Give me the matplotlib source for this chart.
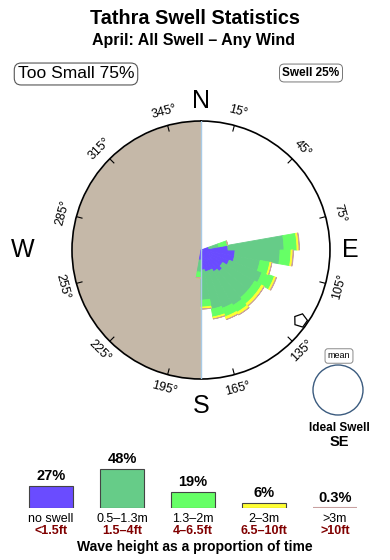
import matplotlib
matplotlib.use("Agg")
import matplotlib.pyplot as plt
from matplotlib.patches import Ellipse
import numpy as np

plt.rcParams['font.family'] = ['Liberation Sans', 'DejaVu Sans']

# swell rose: 10 degree sectors, share of time per height band (arbitrary % units)
directions = [75, 85, 95, 105, 115, 125, 135, 145, 155, 165, 175, 185]
no_swell = [0.8, 2.7, 3.4, 3.4, 3.0, 2.5, 2.8, 2.5, 2.2, 2.2, 2.0, 1.0]
h_05_13 = [1.0, 5.6, 4.5, 2.6, 3.5, 3.7, 3.4, 3.9, 4.0, 3.8, 3.0, 1.2]
h_13_2 = [0.9, 1.3, 1.1, 1.0, 1.3, 0.8, 0.8, 0.8, 0.9, 0.8, 0.7, 0.6]
h_2_3 = [0.0, 0.2, 0.2, 0.2, 0.2, 0.3, 0.3, 0.3, 0.3, 0.2, 0.2, 0.0]
h_3up = [0.0, 0.05, 0.05, 0.0, 0.05, 0.0, 0.0, 0.0, 0.0, 0.0, 0.0, 0.0]

# legend at the bottom
band_pct = [27, 48, 19, 6, 0.3]
band_pct_labels = ["27%", "48%", "19%", "6%", "0.3%"]
band_m = ["no swell", "0.5\u20131.3m", "1.3\u20132m", "2\u20133m", ">3m"]
band_ft = ["<1.5ft", "1.5\u20134ft", "4\u20136.5ft", "6.5\u201310ft", ">10ft"]
colors = ["#6a4cff", "#66cc88", "#66ff66", "#ffff33", "#c8a0a0"]
tick_dirs = list(range(15, 360, 30))

RMAX = 12.9
TAN = "#c5b8a8"
W, H = 390, 560


def fx(px):
    return px / W


def fy(py):
    return 1 - py / H


fig = plt.figure(figsize=(3.9, 5.6), dpi=100)

fig.text(fx(195), fy(18), "Tathra Swell Statistics", ha="center", va="center",
         fontsize=14.3, weight="bold")
fig.text(fx(194), fy(41), "April: All Swell \u2013 Any Wind", ha="center", va="center",
         fontsize=11.5, weight="bold")
fig.text(fx(76), fy(74), "Too Small 75%", ha="center", va="center", fontsize=12.5,
         bbox=dict(boxstyle="round,pad=0.2,rounding_size=0.4", fc="white", ec="#555555", lw=0.8))
fig.text(fx(311), fy(73), "Swell 25%", ha="center", va="center", fontsize=8.5, weight="bold",
         bbox=dict(boxstyle="round,pad=0.25,rounding_size=0.4", fc="white", ec="#777777", lw=0.7))

# rose
ax = fig.add_axes([0.1846, 0.3232, 0.6615, 0.4607], projection="polar")
ax.set_theta_zero_location("N")
ax.set_theta_direction(-1)
ax.set_ylim(0, RMAX)
ax.set_xticks([])
ax.set_yticks([])
ax.grid(False)
ax.spines["polar"].set_linewidth(1.2)

th = np.linspace(np.pi, 2 * np.pi, 200)
ax.fill_between(th, 0, RMAX, color=TAN, lw=0, zorder=0)

theta = np.deg2rad(directions)
bottom = np.zeros(len(directions))
for vals, col in zip([no_swell, h_05_13, h_13_2, h_2_3, h_3up], colors):
    vals = np.array(vals)
    ax.bar(theta, vals, width=np.deg2rad(10), bottom=bottom, color=col,
           edgecolor=col, lw=0.6, zorder=2)
    bottom += vals

ax.plot([0, 0], [0, RMAX], color="#a8cbe6", lw=1, zorder=3)
ax.plot([np.pi, np.pi], [0, RMAX], color="#a8cbe6", lw=1, zorder=3)

for b in tick_dirs:
    t = np.deg2rad(b)
    ax.plot([t, t], [RMAX * 0.955, RMAX], color="k", lw=0.8, zorder=4)
    rot = -b if (b < 90 or b > 270) else 180 - b
    ax.text(t, RMAX * 1.11, f"{b}\u00b0", rotation=rot, rotation_mode="anchor",
            ha="center", va="center", fontsize=9)

ax.text(0, RMAX * 1.155, "N", ha="center", va="center", fontsize=18)
ax.text(np.pi / 2, RMAX * 1.155, "E", ha="center", va="center", fontsize=18)
ax.text(np.pi, RMAX * 1.21, "S", ha="center", va="center", fontsize=18)
ax.text(1.5 * np.pi, RMAX * 1.38, "W", ha="center", va="center", fontsize=18)

# ideal swell direction marker
ax.plot(np.deg2rad(125), RMAX * 0.94, marker=(5, 0, 55), ms=10, mfc="white",
        mec="k", mew=0.9, zorder=5, clip_on=False)

fig.add_artist(Ellipse((fx(338), fy(390)), 50 / W, 50 / H, transform=fig.transFigure,
                       fill=False, ec="#3b5b7f", lw=1))
fig.text(fx(339), fy(356), "mean", ha="center", va="center", fontsize=6.5,
         bbox=dict(boxstyle="round,pad=0.3,rounding_size=0.3", fc="white", ec="#777777", lw=0.6))
fig.text(fx(339), fy(428), "Ideal Swell", ha="center", va="center", fontsize=8.5, weight="bold")
fig.text(fx(339), fy(442), "SE", ha="center", va="center", fontsize=10.5, weight="bold")

# height-band legend
PX = 0.82  # pixels per percent
BASE = 508
ax2 = fig.add_axes([0, (H - BASE) / H, 1, 70 / H])
ax2.set_xlim(0, W)
ax2.set_ylim(0, 70 / PX)
ax2.axis("off")
xs = [51, 122, 193, 264, 335]
for i, (x, p) in enumerate(zip(xs, band_pct)):
    if i < 4:
        ax2.bar(x, p, width=44, color=colors[i], edgecolor="#444444", lw=0.8)
    else:
        ax2.bar(x, p, width=44, color=colors[i], edgecolor=colors[i], lw=1.5)
    ax2.text(x, p + 10 / PX, band_pct_labels[i], ha="center", va="center",
             fontsize=10.5, weight="bold")
    ax2.text(x, -11 / PX, band_m[i], ha="center", va="center", fontsize=9, clip_on=False)
    ax2.text(x, -23 / PX, band_ft[i], ha="center", va="center", fontsize=9,
             weight="bold", color="#800000", clip_on=False)

fig.text(fx(195), fy(547), "Wave height as a proportion of time", ha="center",
         va="center", fontsize=10, weight="bold")

fig.savefig("out.png", dpi=100)
